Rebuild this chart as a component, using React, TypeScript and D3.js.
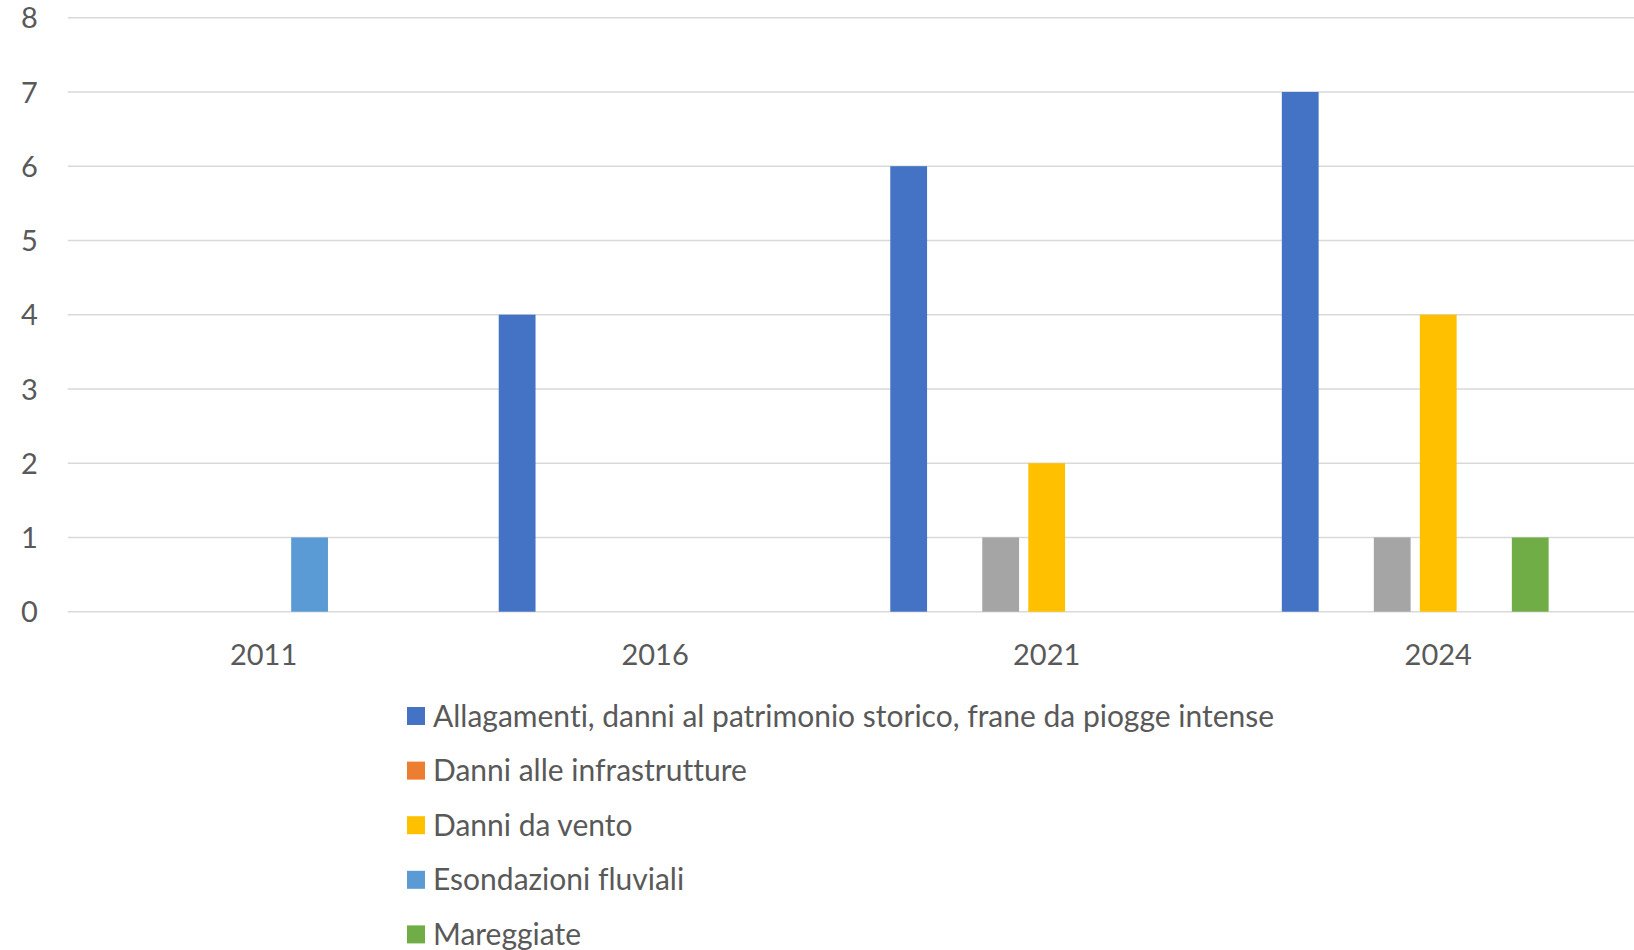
import * as d3 from "d3";

const WIDTH = 1634;
const HEIGHT = 950;
const MARGIN = { top: 17.7, right: 0, bottom: 338.3, left: 67.8 };

// anni sull'asse x
const years = ["2011", "2016", "2021", "2024"];

// una serie per tipo di evento (ordine come nel grafico originale)
const seriesNames = [
  "Allagamenti, danni al patrimonio storico, frane da piogge intense",
  "Danni alle infrastrutture",
  "(serie grigia)",
  "Danni da vento",
  "Esondazioni fluviali",
  "Mareggiate",
  "(serie vuota)",
];
const seriesColors = ["#4472C4", "#ED7D31", "#A5A5A5", "#FFC000", "#5B9BD5", "#70AD47", "#264478"];
const inLegend = [true, true, false, true, true, true, false];

// valori per anno, stesso ordine di seriesNames
const allagamenti = [0, 4, 6, 7];
const infrastrutture = [0, 0, 0, 0];
const grigia = [0, 0, 1, 1];
const vento = [0, 0, 2, 4];
const esondazioni = [1, 0, 0, 0];
const mareggiate = [0, 0, 0, 1];
const vuota = [0, 0, 0, 0];
const values = [allagamenti, infrastrutture, grigia, vento, esondazioni, mareggiate, vuota];

const yTicks = [0, 1, 2, 3, 4, 5, 6, 7, 8];

const FONT = "Lato, 'Noto Sans', sans-serif";
const TEXT = "#595959";
const noLig = { fontVariantLigatures: "none" as const };

function BarChart() {
  const boundsWidth = WIDTH - MARGIN.left - MARGIN.right;
  const boundsHeight = HEIGHT - MARGIN.top - MARGIN.bottom;

  const xScale = d3.scaleBand().domain(years).range([0, boundsWidth]);
  const groupHalf = 161;
  const xInner = d3
    .scaleBand<number>()
    .domain(d3.range(seriesNames.length))
    .range([-groupHalf, groupHalf])
    .paddingInner(0.2)
    .paddingOuter(0.1);
  const yScale = d3.scaleLinear().domain([0, 8]).range([boundsHeight, 0]);

  const legendItems = seriesNames
    .map((name, i) => ({ name, color: seriesColors[i], show: inLegend[i] }))
    .filter((d) => d.show);

  return (
    <svg width={WIDTH} height={HEIGHT} style={{ display: "block" }}>
      <rect width={WIDTH} height={HEIGHT} fill="#fff" />
      <g transform={`translate(${MARGIN.left},${MARGIN.top})`}>
        {/* griglia */}
        {yTicks.map((t) => (
          <line key={t} x1={0} x2={boundsWidth} y1={yScale(t)} y2={yScale(t)} stroke="#D9D9D9" strokeWidth={1.5} />
        ))}
        {/* barre */}
        {years.map((yr, j) => {
          const cx = (xScale(yr) || 0) + xScale.bandwidth() / 2;
          return (
            <g key={yr} transform={`translate(${cx},0)`}>
              {values.map((vals, i) =>
                vals[j] > 0 ? (
                  <rect
                    key={i}
                    x={xInner(i)}
                    y={yScale(vals[j])}
                    width={xInner.bandwidth()}
                    height={yScale(0) - yScale(vals[j])}
                    fill={seriesColors[i]}
                  />
                ) : null
              )}
            </g>
          );
        })}
        {/* etichette asse y */}
        {yTicks.map((t) => (
          <text key={t} x={-30} y={yScale(t)} dy="0.37em" textAnchor="end" fontFamily={FONT} fontSize={29} fill={TEXT}>
            {t}
          </text>
        ))}
        {/* etichette asse x */}
        {years.map((yr) => (
          <text
            key={yr}
            x={(xScale(yr) || 0) + xScale.bandwidth() / 2}
            y={boundsHeight + 53}
            textAnchor="middle"
            fontFamily={FONT}
            fontSize={29}
            fill={TEXT}
          >
            {yr}
          </text>
        ))}
      </g>
      {/* legenda */}
      <g transform="translate(407,707)">
        {legendItems.map((d, i) => (
          <g key={d.name} transform={`translate(0,${i * 54.6})`}>
            <rect width={18} height={18} fill={d.color} />
            <text x={26} y={19.5} fontFamily={FONT} fontSize={30} fill={TEXT} style={noLig}>
              {d.name}
            </text>
          </g>
        ))}
      </g>
    </svg>
  );
}

export default function App() {
  return (
    <div style={{ position: "absolute", left: 0, top: 0 }}>
      <BarChart />
    </div>
  );
}
